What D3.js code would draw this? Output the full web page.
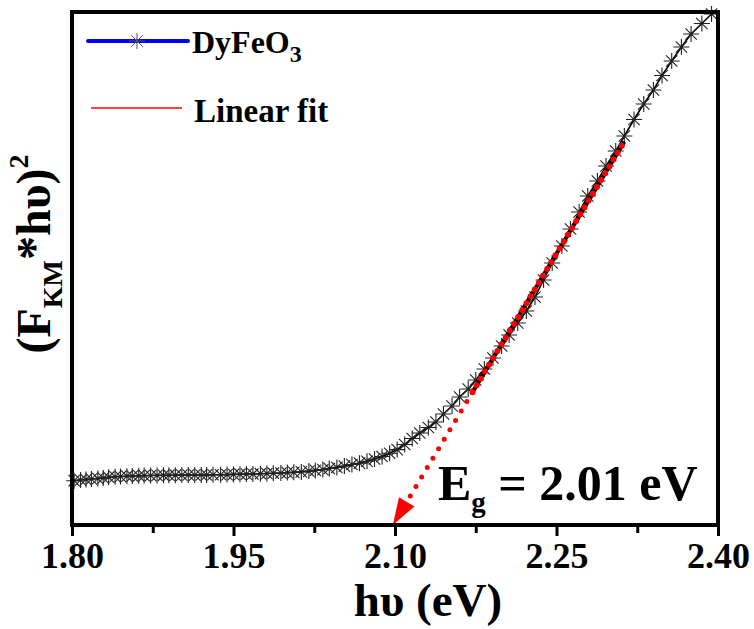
<!DOCTYPE html>
<html>
<head>
<meta charset="utf-8">
<script src="https://cdn.jsdelivr.net/npm/d3@7"></script>
<style>
  body { margin: 0; background: #fff; }
  svg { display: block; }
  text { font-family: "Liberation Serif", "Times New Roman", serif; font-weight: bold; fill: #000; }
</style>
</head>
<body>
<script>
// photon energy (eV)
const energy = [
  1.802, 1.808, 1.813, 1.818, 1.824, 1.829, 1.834, 1.840, 1.845, 1.851,
  1.856, 1.862, 1.867, 1.873, 1.879, 1.885, 1.890, 1.896, 1.902, 1.908,
  1.914, 1.920, 1.925, 1.931, 1.938, 1.944, 1.950, 1.956, 1.962, 1.968,
  1.975, 1.981, 1.987, 1.994, 2.000, 2.006, 2.013, 2.020, 2.026, 2.033,
  2.039, 2.046, 2.053, 2.060, 2.067, 2.074, 2.081, 2.088, 2.095, 2.102,
  2.109, 2.116, 2.123, 2.131, 2.138, 2.145, 2.153, 2.160, 2.168, 2.175,
  2.183, 2.191, 2.199, 2.206, 2.214, 2.222, 2.230, 2.238, 2.246, 2.255,
  2.263, 2.271, 2.279, 2.288, 2.296, 2.305, 2.313, 2.322, 2.331, 2.340,
  2.348, 2.357, 2.366, 2.375, 2.385, 2.394
];
// (F_KM * hv)^2, arbitrary units
const kmValue = [
  8.64, 8.77, 8.87, 8.97, 9.06, 9.16, 9.32, 9.40, 9.45, 9.51,
  9.55, 9.59, 9.63, 9.65, 9.67, 9.69, 9.71, 9.71, 9.73, 9.75,
  9.75, 9.75, 9.77, 9.79, 9.80, 9.82, 9.86, 9.90, 9.92, 9.94,
  10.00, 10.04, 10.10, 10.14, 10.21, 10.27, 10.35, 10.51, 10.64, 10.80,
  11.01, 11.23, 11.48, 11.79, 12.05, 12.42, 12.87, 13.35, 13.98, 14.70,
  15.69, 16.86, 17.93, 19.01, 20.08, 21.64, 23.20, 24.95, 26.51, 28.27,
  30.41, 32.55, 34.89, 37.04, 39.38, 41.72, 44.44, 47.76, 51.07, 54.39,
  57.70, 61.01, 64.13, 67.06, 69.98, 72.90, 75.83, 79.04, 82.07, 84.80,
  87.62, 90.45, 93.18, 95.71, 97.76, 99.61
];
// linear fit segment and its extrapolation to the axis
const fitEnergy = [2.172, 2.313];
const fitValue = [25.9, 74.7];
const interceptEnergy = 2.098;

const majorTicks = [1.80, 1.95, 2.10, 2.25, 2.40];
const minorTicks = [1.875, 2.025, 2.175, 2.325];
const legendLabels = ["DyFeO", "Linear fit"];
const gapLabel = "2.01 eV";

const W = 754, H = 629;
const svg = d3.select("body").append("svg").attr("width", W).attr("height", H);

const x = d3.scaleLinear().domain([1.8, 2.4]).range([72, 718]);
const y = d3.scaleLinear().domain([0, 100]).range([525, 12]);

// ticks below axis
const minorAxis = svg.append("g")
  .attr("transform", "translate(0,525)")
  .call(d3.axisBottom(x).tickValues(minorTicks).tickSize(8).tickFormat(""));
minorAxis.select(".domain").remove();
minorAxis.selectAll("line").attr("stroke", "#000").attr("stroke-width", 3);

const majorAxis = svg.append("g")
  .attr("transform", "translate(0,525)")
  .call(d3.axisBottom(x).tickValues(majorTicks).tickSize(11).tickPadding(6).tickFormat(d3.format(".2f")));
majorAxis.select(".domain").remove();
majorAxis.selectAll("line").attr("stroke", "#000").attr("stroke-width", 3);
majorAxis.selectAll("text")
  .attr("font-size", 36).attr("fill", "#000");

// data line + asterisk markers
const line = d3.line().x((d, i) => x(energy[i])).y(d => y(d));
svg.append("path").datum(kmValue)
  .attr("d", line).attr("fill", "none").attr("stroke", "#000").attr("stroke-width", 1.6);

const star = "M-8,0L8,0M0,-8L0,8M-5.7,-5.7L5.7,5.7M-5.7,5.7L5.7,-5.7";
svg.append("g").selectAll("path").data(kmValue).join("path")
  .attr("transform", (d, i) => `translate(${x(energy[i])},${y(d)})`)
  .attr("d", star).attr("fill", "none").attr("stroke", "#222").attr("stroke-width", 1.1);

// linear fit
const fitPts = fitEnergy.map((e, i) => [x(e), y(fitValue[i])]);
svg.append("path").attr("d", d3.line()(fitPts))
  .attr("stroke", "#000").attr("stroke-width", 4).attr("fill", "none");
svg.append("path").attr("d", d3.line()(fitPts))
  .attr("stroke", "#ff0000").attr("stroke-width", 6).attr("fill", "none")
  .attr("stroke-linecap", "round").attr("stroke-dasharray", "0 8");

// extrapolation with arrow
const tip = [x(interceptEnergy), y(0)];
const start = fitPts[0];
const len = Math.hypot(tip[0] - start[0], tip[1] - start[1]);
const ux = (tip[0] - start[0]) / len, uy = (tip[1] - start[1]) / len;
const headLen = 27, headW = 9;
const base = [tip[0] - ux * headLen, tip[1] - uy * headLen];
svg.append("path").attr("d", d3.line()([start, base]))
  .attr("stroke", "#ff0000").attr("stroke-width", 5).attr("fill", "none")
  .attr("stroke-linecap", "round").attr("stroke-dasharray", "0 11");
svg.append("path")
  .attr("d", d3.line()([tip, [base[0] - uy * headW, base[1] + ux * headW], [base[0] + uy * headW, base[1] - ux * headW]]) + "Z")
  .attr("fill", "#ff0000");

// frame
svg.append("rect").attr("x", 72).attr("y", 12).attr("width", 646).attr("height", 513)
  .attr("fill", "none").attr("stroke", "#000").attr("stroke-width", 4);

// legend
svg.append("line").attr("x1", 88).attr("x2", 188).attr("y1", 41).attr("y2", 41)
  .attr("stroke", "#0000ff").attr("stroke-width", 4).attr("stroke-linecap", "round");
svg.append("path").attr("transform", "translate(137,41)").attr("d", star)
  .attr("fill", "none").attr("stroke", "#555").attr("stroke-width", 1);
const t1 = svg.append("text").attr("x", 192).attr("y", 53).attr("font-size", 32);
t1.append("tspan").text(legendLabels[0]);
t1.append("tspan").attr("font-size", 24).attr("dy", 9).text("3");

svg.append("line").attr("x1", 91).attr("x2", 182).attr("y1", 108).attr("y2", 108)
  .attr("stroke", "#ff0000").attr("stroke-width", 1.5);
svg.append("text").attr("x", 194).attr("y", 122).attr("font-size", 33).text(legendLabels[1]);

// band gap annotation
const eg = svg.append("text").attr("x", 438).attr("y", 500).attr("font-size", 50);
eg.append("tspan").text("E");
eg.append("tspan").attr("font-size", 29).attr("dy", 12).text("g");
eg.append("tspan").attr("dy", -12).text(" = " + gapLabel);

// axis titles
svg.append("text").attr("x", 428).attr("y", 616).attr("text-anchor", "middle")
  .attr("font-size", 47).text("h\u03c5 (eV)");

const yl = svg.append("text").attr("transform", "translate(50,254) rotate(-90)")
  .attr("text-anchor", "middle").attr("font-size", 48);
yl.append("tspan").text("(F");
yl.append("tspan").attr("font-size", 28).attr("dy", 12).text("KM");
yl.append("tspan").attr("dy", -12).text("*h\u03c5)");
yl.append("tspan").attr("font-size", 28).attr("dy", -22).text("2");
</script>
</body>
</html>
